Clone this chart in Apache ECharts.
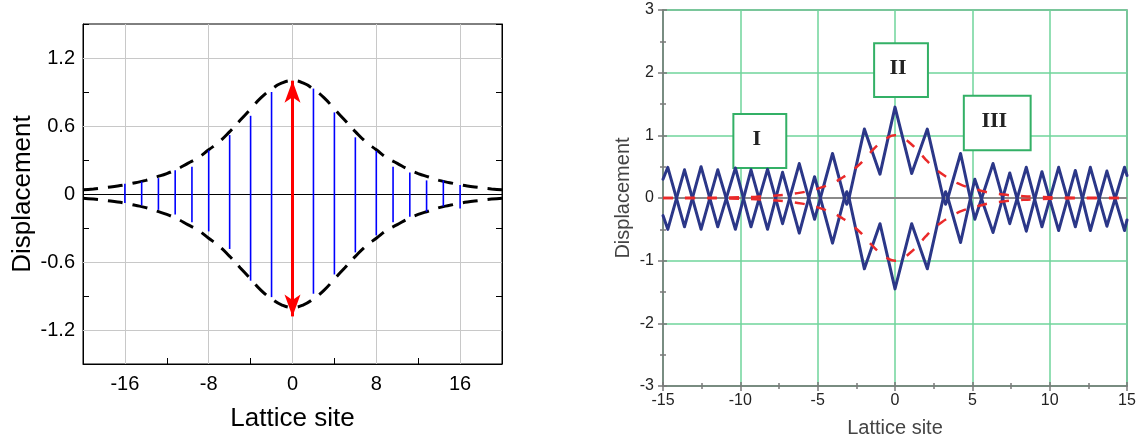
<!DOCTYPE html>
<html>
<head>
<meta charset="utf-8">
<script src="https://cdn.jsdelivr.net/npm/echarts@6/dist/echarts.min.js"></script>
<style>
  html, body { margin: 0; padding: 0; background: #fff; }
  #chart { width: 1145px; height: 443px; }
</style>
</head>
<body>
<div id="chart"></div>
<script>
// ---- left panel: breather snapshot ----
var leftSites  = [-16, -14.4, -12.8, -11.2, -9.6, -8, -6, -4, -2, 2, 4, 6, 8, 9.6, 11.2, 12.8, 14.4, 16];
var leftTop    = [0.09, 0.11, 0.14, 0.21, 0.24, 0.385, 0.52, 0.69, 0.9, 0.93, 0.72, 0.5, 0.38, 0.24, 0.19, 0.12, 0.12, 0.08];
var leftBottom = [-0.08, -0.1, -0.14, -0.18, -0.25, -0.33, -0.485, -0.765, -0.91, -0.88, -0.71, -0.515, -0.365, -0.25, -0.2, -0.156, -0.11, -0.127];
var arrowSite = 0, arrowTop = 1.0, arrowBottom = -1.08;

var envSites = [-20, -19, -18, -17, -16, -15, -14, -13, -12, -11, -10, -9, -8, -7, -6, -5, -4, -3, -2, -1, 0,
                1, 2, 3, 4, 5, 6, 7, 8, 9, 10, 11, 12, 13, 14, 15, 16, 17, 18, 19, 20];
var envUpper = [0.037, 0.045, 0.055, 0.067, 0.081, 0.1, 0.12, 0.15, 0.18, 0.22, 0.27, 0.32, 0.39, 0.46, 0.55, 0.65, 0.75, 0.85, 0.925, 0.98, 1.0,
                0.98, 0.925, 0.85, 0.75, 0.65, 0.55, 0.46, 0.39, 0.32, 0.27, 0.22, 0.18, 0.15, 0.12, 0.1, 0.081, 0.067, 0.055, 0.045, 0.037];
var envLower = [-0.037, -0.045, -0.055, -0.067, -0.081, -0.1, -0.12, -0.15, -0.18, -0.22, -0.27, -0.32, -0.39, -0.46, -0.55, -0.65, -0.75, -0.85, -0.925, -0.98, -1.0,
                -0.98, -0.925, -0.85, -0.75, -0.65, -0.55, -0.46, -0.39, -0.32, -0.27, -0.22, -0.18, -0.15, -0.12, -0.1, -0.081, -0.067, -0.055, -0.045, -0.037];
var leftGridX = [-16, -8, 0, 8, 16];
var leftGridY = [-1.2, -0.6, 0.6, 1.2];

// ---- right panel: two snapshots + envelope ----
var siteR  = [-15, -14.69, -13.61, -12.54, -11.46, -10.32, -9.31, -8.24, -7.27, -6.19, -5.2, -4.04, -3.27, -3.12, -2.97, -1.98, -0.97, 0,
              1.08, 2.09, 3.12, 3.27, 3.42, 4.24, 5.16, 6.34, 7.42, 8.49, 9.5, 10.58, 11.66, 12.63, 13.7, 14.84, 15];
var curveA = [-0.28, -0.5, 0.45, -0.5, 0.45, -0.5, 0.45, -0.5, 0.41, -0.56, 0.34, -0.72, 0, 0.1, 0, 1.1, 0.38, 1.45,
              0.39, 1.1, 0, -0.1, 0, -0.71, 0.3, -0.55, 0.4, -0.53, 0.42, -0.52, 0.44, -0.52, 0.43, -0.52, -0.35];
var curveB = [0.3, 0.49, -0.46, 0.5, -0.46, 0.48, -0.46, 0.46, -0.41, 0.55, -0.34, 0.71, 0, -0.1, 0, -1.13, -0.41, -1.45,
              -0.41, -1.13, 0, 0.1, 0, 0.71, -0.34, 0.55, -0.41, 0.49, -0.46, 0.49, -0.46, 0.49, -0.45, 0.49, 0.36];

var redSites = [-15, -13, -11, -9, -8, -7, -6, -5.5, -5, -4.5, -4, -3.5, -3, -2.5, -2, -1.5, -1, -0.5, 0,
                0.5, 1, 1.5, 2, 2.5, 3, 3.5, 4, 4.5, 5, 5.5, 6, 7, 8, 9, 11, 13, 15];
var redUpper = [0.001, 0.003, 0.008, 0.02, 0.035, 0.055, 0.09, 0.12, 0.15, 0.19, 0.24, 0.31, 0.39, 0.49, 0.61, 0.75, 0.87, 0.96, 1.0,
                0.96, 0.87, 0.75, 0.61, 0.49, 0.39, 0.31, 0.24, 0.19, 0.15, 0.12, 0.09, 0.055, 0.035, 0.02, 0.008, 0.003, 0.001];
var redLower = [-0.001, -0.003, -0.008, -0.02, -0.035, -0.055, -0.09, -0.12, -0.15, -0.19, -0.24, -0.31, -0.39, -0.49, -0.61, -0.75, -0.87, -0.96, -1.0,
                -0.96, -0.87, -0.75, -0.61, -0.49, -0.39, -0.31, -0.24, -0.19, -0.15, -0.12, -0.09, -0.055, -0.035, -0.02, -0.008, -0.003, -0.001];

// label boxes I, II, III  [name, x0, y0, x1, y1]
var boxes = [
    ['I', -10.45, 1.34, -7.03, 0.48],
    ['II', -1.35, 2.47, 2.13, 1.61],
    ['III', 4.45, 1.63, 8.77, 0.76]
];

function pairs(xs, ys) {
    var out = [];
    for (var i = 0; i < xs.length; i++) {
        out.push([xs[i], ys[i]]);
    }
    return out;
}

var sans = 'Liberation Sans, Arial, sans-serif';
var rGray = '#7a7a7a';
var rGreen = '#6fd49b';

var chart = echarts.init(document.getElementById('chart'), null, {renderer: 'canvas'});

var option = {
    animation: false,
    backgroundColor: '#fff',
    textStyle: {fontFamily: sans},
    grid: [
        {left: 83, top: 24, width: 419, height: 340, show: true, borderColor: '#000', borderWidth: 1},
        {left: 663, top: 10, width: 464, height: 376, show: true, borderColor: rGray, borderWidth: 1.5}
    ],
    xAxis: [
        {
            gridIndex: 0, type: 'value', min: -20, max: 20, interval: 4,
            axisLine: {onZero: false, lineStyle: {color: '#000', width: 1}},
            axisTick: {inside: true, length: 6, lineStyle: {color: '#000'}},
            axisLabel: {
                fontSize: 20, color: '#000', margin: 10, fontFamily: sans,
                formatter: function (v) {
                    var r = Math.round(v);
                    return (r % 8 === 0) ? String(r) : '';
                }
            },
            splitLine: {show: false},
            name: 'Lattice site', nameLocation: 'middle', nameGap: 42,
            nameTextStyle: {fontSize: 26, color: '#000', fontFamily: sans}
        },
        {
            gridIndex: 1, type: 'value', min: -15, max: 15, interval: 5,
            axisLine: {onZero: false, lineStyle: {color: rGray, width: 1.5}},
            axisTick: {length: 5, lineStyle: {color: rGray, width: 1.5}},
            minorTick: {show: true, splitNumber: 2, length: 3, lineStyle: {color: rGray, width: 1.5}},
            axisLabel: {fontSize: 16, color: '#222', margin: 7, fontFamily: sans},
            splitLine: {show: true, lineStyle: {color: rGreen, width: 1.5}},
            name: 'Lattice site', nameLocation: 'middle', nameGap: 32,
            nameTextStyle: {fontSize: 20, color: '#444', fontFamily: sans}
        },
        {
            gridIndex: 1, type: 'value', min: -15, max: 15, interval: 5, position: 'bottom',
            axisLine: {show: false, onZero: false},
            axisTick: {inside: true, length: 4, lineStyle: {color: rGray, width: 1.5}},
            minorTick: {show: true, splitNumber: 2, length: 3, lineStyle: {color: rGray, width: 1.5}},
            axisLabel: {show: false},
            splitLine: {show: false}
        }
    ],
    yAxis: [
        {
            gridIndex: 0, type: 'value', min: -1.5, max: 1.5, interval: 0.3,
            axisLine: {onZero: false, lineStyle: {color: '#000', width: 1}},
            axisTick: {inside: true, length: 6, lineStyle: {color: '#000'}},
            axisLabel: {
                fontSize: 20, color: '#000', margin: 8, fontFamily: sans,
                formatter: function (v) {
                    var t = Math.round(v * 10);
                    if (t % 6 !== 0) return '';
                    return t === 0 ? '0' : String(t / 10);
                }
            },
            splitLine: {show: false},
            name: 'Displacement', nameLocation: 'middle', nameGap: 47,
            nameTextStyle: {fontSize: 26, color: '#000', fontFamily: sans}
        },
        {
            gridIndex: 0, type: 'value', min: -1.5, max: 1.5, interval: 0.3, position: 'right',
            axisLine: {show: true, onZero: false, lineStyle: {color: '#000', width: 1}},
            axisTick: {inside: true, length: 6, lineStyle: {color: '#000'}},
            axisLabel: {show: false},
            splitLine: {show: false}
        },
        {
            gridIndex: 1, type: 'value', min: -3, max: 3, interval: 1,
            axisLine: {onZero: false, lineStyle: {color: rGray, width: 1.5}},
            axisTick: {length: 5, lineStyle: {color: rGray, width: 1.5}},
            minorTick: {show: true, splitNumber: 2, length: 3, lineStyle: {color: rGray, width: 1.5}},
            axisLabel: {fontSize: 16, color: '#222', margin: 9, fontFamily: sans},
            splitLine: {show: true, lineStyle: {color: rGreen, width: 1.5}},
            name: 'Displacement', nameLocation: 'middle', nameGap: 30,
            nameTextStyle: {fontSize: 20, color: '#444', fontFamily: sans}
        },
        {
            gridIndex: 1, type: 'value', min: -3, max: 3, interval: 1, position: 'left',
            axisLine: {show: false, onZero: false},
            axisTick: {inside: true, length: 4, lineStyle: {color: rGray, width: 1.5}},
            minorTick: {show: true, splitNumber: 2, length: 3, lineStyle: {color: rGray, width: 1.5}},
            axisLabel: {show: false},
            splitLine: {show: false}
        }
    ],
    series: [
        // left: grid lines + zero line
        {
            type: 'line', xAxisIndex: 0, yAxisIndex: 0, data: [], z: 1, silent: true,
            markLine: {
                silent: true, z: 1, symbol: ['none', 'none'], label: {show: false},
                lineStyle: {color: '#c8c8c8', width: 1, type: 'solid'},
                data: leftGridY.map(function (v) { return {yAxis: v}; })
                    .concat(leftGridX.map(function (v) { return {xAxis: v}; }))
                    .concat([{yAxis: 0, lineStyle: {color: '#000', width: 1, type: 'solid'}}])
            }
        },
        {
            type: 'line', xAxisIndex: 0, yAxisIndex: 0, z: 3, smooth: true, showSymbol: false, silent: true,
            lineStyle: {color: '#000', width: 3, type: [15, 10]},
            data: pairs(envSites, envUpper)
        },
        {
            type: 'line', xAxisIndex: 0, yAxisIndex: 0, z: 3, smooth: true, showSymbol: false, silent: true,
            lineStyle: {color: '#000', width: 3, type: [15, 10]},
            data: pairs(envSites, envLower)
        },
        {
            type: 'custom', xAxisIndex: 0, yAxisIndex: 0, z: 4, silent: true,
            encode: {x: 0, y: [1, 2]},
            data: leftSites.map(function (s, i) { return [s, leftTop[i], leftBottom[i]]; }),
            renderItem: function (params, api) {
                var hi = api.coord([api.value(0), api.value(1)]);
                var lo = api.coord([api.value(0), api.value(2)]);
                return {
                    type: 'line',
                    shape: {x1: hi[0], y1: hi[1], x2: lo[0], y2: lo[1]},
                    style: {stroke: '#0000ff', lineWidth: 1.6}
                };
            }
        },
        {
            type: 'line', xAxisIndex: 0, yAxisIndex: 0, data: [], z: 5, silent: true,
            markLine: {
                silent: true, z: 6, symbol: ['arrow', 'arrow'], symbolSize: [12, 22], label: {show: false},
                lineStyle: {color: '#ff0000', width: 3, type: 'solid'},
                data: [[{coord: [arrowSite, arrowTop]}, {coord: [arrowSite, arrowBottom]}]]
            }
        },
        // right: zero line + label boxes
        {
            type: 'line', xAxisIndex: 1, yAxisIndex: 2, data: [], z: 2, silent: true,
            markLine: {
                silent: true, z: 2, symbol: ['none', 'none'], label: {show: false},
                lineStyle: {color: '#8a8a8a', width: 2, type: 'solid'},
                data: [{yAxis: 0}]
            },
            markArea: {
                silent: true, z: 2,
                itemStyle: {color: '#ffffff', borderColor: '#33b066', borderWidth: 2, opacity: 1},
                label: {
                    show: true, position: 'inside', fontFamily: 'Liberation Serif, Times New Roman, serif',
                    fontWeight: 'bold', fontSize: 22, color: '#222', offset: [-3, -2]
                },
                data: boxes.map(function (b) {
                    return [{name: b[0], coord: [b[1], b[2]]}, {coord: [b[3], b[4]]}];
                })
            }
        },
        {
            type: 'line', xAxisIndex: 1, yAxisIndex: 2, z: 4, showSymbol: false, silent: true,
            lineStyle: {color: '#2b3788', width: 3, join: 'round', cap: 'round'},
            data: pairs(siteR, curveA)
        },
        {
            type: 'line', xAxisIndex: 1, yAxisIndex: 2, z: 4, showSymbol: false, silent: true,
            lineStyle: {color: '#2b3788', width: 3, join: 'round', cap: 'round'},
            data: pairs(siteR, curveB)
        },
        {
            type: 'line', xAxisIndex: 1, yAxisIndex: 2, z: 5, smooth: true, showSymbol: false, silent: true,
            lineStyle: {color: '#ea2a2a', width: 2.5, type: [10, 12]},
            data: pairs(redSites, redUpper)
        },
        {
            type: 'line', xAxisIndex: 1, yAxisIndex: 2, z: 5, smooth: true, showSymbol: false, silent: true,
            lineStyle: {color: '#ea2a2a', width: 2.5, type: [10, 12]},
            data: pairs(redSites, redLower)
        }
    ]
};

chart.setOption(option);
</script>
</body>
</html>
